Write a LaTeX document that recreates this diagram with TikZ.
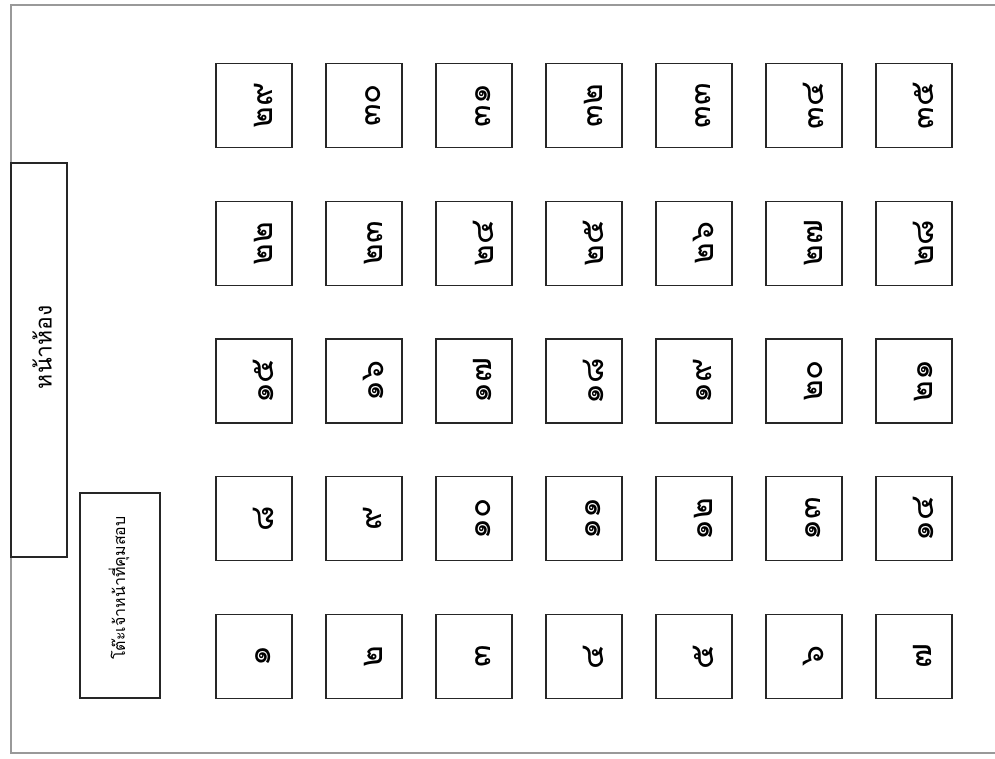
\documentclass[tikz,border=0pt]{standalone}
\usepackage{fontspec}
\newfontfamily\thaifont[Script=Thai]{Loma}
\begin{document}
\begin{tikzpicture}[x=1pt,y=-1pt,
  seat/.style={draw=black!85,line width=1.1pt,minimum width=76pt,minimum height=84pt,inner sep=0pt},
  num/.style={rotate=90,inner sep=0pt,font=\thaifont\fontsize{33}{35}\selectfont},
  roombox/.style={draw=black!85,line width=1.3pt,inner sep=0pt},
  lbl/.style={rotate=90,inner sep=0pt}]
\useasboundingbox (0,0) rectangle (995,758);
\draw[black!40,line width=1.6pt] (996,5) -- (11,5) -- (11,753) -- (996,753);
\node[roombox,minimum width=56pt,minimum height=394pt] (front) at (39,360) {};
\node[lbl,font=\thaifont\fontsize{23}{25}\selectfont] (frontlbl) at (42,347) {หน้าห้อง};
\node[roombox,minimum width=80pt,minimum height=205pt] (table) at (120,595.5) {};
\node[lbl,font=\thaifont\fontsize{16}{18}\selectfont] (tablelbl) at (119,588) {โต๊ะเจ้าหน้าที่คุมสอบ};
\foreach \row/\labels in {0/{๒๙,๓๐,๓๑,๓๒,๓๓,๓๔,๓๕},1/{๒๒,๒๓,๒๔,๒๕,๒๖,๒๗,๒๘},2/{๑๕,๑๖,๑๗,๑๘,๑๙,๒๐,๒๑},3/{๘,๙,๑๐,๑๑,๑๒,๑๓,๑๔},4/{๑,๒,๓,๔,๕,๖,๗}}{
  \foreach \lab [count=\c from 0] in \labels {
    \node[seat] (s\row\c) at (254+110*\c,105.5+137.75*\row) {};
    \node[num] (t\row\c) at ([xshift=9pt]s\row\c.center) {\lab};
  }
}
\end{tikzpicture}
\end{document}
